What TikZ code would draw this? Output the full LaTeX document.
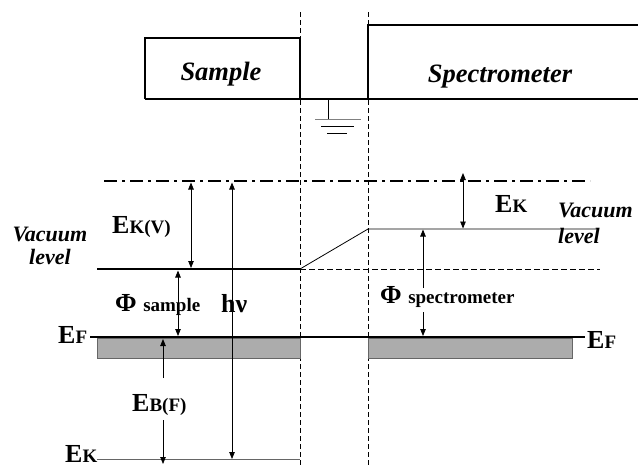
\documentclass[tikz,border=0pt]{standalone}
\usepackage{fontspec}
\setmainfont{Liberation Serif}
\usetikzlibrary{arrows.meta}
\newcommand\LgF{\fontsize{26}{28}\selectfont}
\newcommand\SmF{\fontsize{19}{21}\selectfont}
\newcommand\TitF{\fontsize{26.5}{29}\selectfont}
\newcommand\VacF{\fontsize{22}{23}\selectfont}
\begin{document}
\begin{tikzpicture}[x=1pt,y=-1pt,
  thickln/.style={line width=2.6pt},
  thinln/.style={line width=0.8pt},
  vdash/.style={line width=0.9pt, dash pattern=on 5pt off 3pt},
  boxln/.style={line width=1.1pt},
  tipa/.tip={Triangle[length=7pt,width=5.5pt]},
  dbl/.style={line width=0.8pt, tipa-tipa},
  sgl/.style={line width=0.8pt, -tipa},
  lbl/.style={inner sep=0pt, anchor=base west, font=\bfseries},
  ttl/.style={inner sep=0pt, anchor=base, font=\TitF\bfseries\itshape},
  vac/.style={inner sep=0pt, font=\VacF\bfseries\itshape},
  band/.style={fill=gray!65, draw=black!60, line width=0.8pt}]
\useasboundingbox (0,0) rectangle (638,467);
% coordinates
\coordinate (v1t) at (300,12); \coordinate (v1b) at (300,467);
\coordinate (v2t) at (368,12); \coordinate (v2b) at (368,467);
% boxes
\draw[boxln] (145,99) -- (145,38) -- (300,38) -- (300,99);
\draw[boxln] (638,25) -- (368,25) -- (368,99);
\draw[boxln] (145,99) -- (638,99);
\node[ttl] (sample) at (221,80) {Sample};
\node[ttl] (spectro) at (500,82) {Spectrometer};
% ground
\coordinate (g0) at (328,99); \coordinate (g1) at (328,119);
\draw[thinln] (g0) -- (g1);
\draw[line width=1pt, gray] (315,119) -- (361,119);
\draw[line width=1pt] (321,126) -- (354,126);
\draw[line width=1pt] (327,133) -- (347,133);
% vertical dashed
\draw[vdash] (v1t) -- (v1b);
\draw[vdash] (v2t) -- (v2b);
% energy levels
\coordinate (ddl) at (104,181); \coordinate (ddr) at (590,181);
\draw[line width=2.8pt, dash pattern=on 13pt off 5pt on 3pt off 5pt] (ddl) -- (ddr);
\coordinate (vl0) at (97,269); \coordinate (vl1) at (300,269);
\coordinate (vs0) at (368,229); \coordinate (vs1) at (597,229);
\coordinate (vd1) at (600,269);
\draw[band] (97,338.5) rectangle (300,358);
\draw[band] (368,338.5) rectangle (572,358);
\draw[thickln] (vl0) -- (vl1);
\draw[thinln] (vl1) -- (vs0) -- (vs1);
\draw[thinln, dash pattern=on 6pt off 3pt] (vl1) -- (vd1);
\coordinate (ef0) at (90,337); \coordinate (ef1) at (585,337);
\draw[thickln] (ef0) -- (ef1);
\coordinate (ek0) at (97,459); \coordinate (ek1) at (300,459);
\draw[line width=1pt, black!60] (ek0) -- (ek1);
% labels
\node[vac] (vacL1) at (50,234) {Vacuum};
\node[vac] (vacL2) at (50,257) {level};
\node[vac, anchor=base west] (vacR1) at (558,217) {Vacuum};
\node[vac, anchor=base west] (vacR2) at (558,243) {level};
\node[lbl] (ekv) at (112,233) {\LgF E\SmF K(V)};
\node[lbl] (phis) at (115,311) {\LgF Φ \SmF sample};
\node[lbl] (hnu) at (221,312) {\LgF hν};
\node[lbl] (phisp) at (380,303) {\LgF Φ \SmF spectrometer};
\node[lbl] (ekr) at (495,212) {\LgF E\SmF K};
\node[lbl] (efl) at (58,343) {\LgF E\SmF F};
\node[lbl] (efr) at (587,348) {\LgF E\SmF F};
\node[lbl] (ebf) at (132,411) {\LgF E\SmF B(F)};
\node[lbl] (ekb) at (65,462) {\LgF E\SmF K};
% arrows
\coordinate (a1t) at (191,182.5); \coordinate (a1b) at (191,268);
\draw[dbl] (a1t) -- (a1b);
\coordinate (a2t) at (232,182.5); \coordinate (a2b) at (232,459);
\draw[dbl] (a2t) -- (a2b);
\coordinate (a3t) at (178,270.5); \coordinate (a3b) at (178,336);
\draw[dbl] (a3t) -- (a3b);
\coordinate (a4t) at (423,229.5); \coordinate (a4m1) at (423,288);
\coordinate (a4m2) at (423,312); \coordinate (a4b) at (423,336);
\draw[sgl] (a4m1) -- (a4t);
\draw[sgl] (a4m2) -- (a4b);
\coordinate (a5t) at (163,339); \coordinate (a5m1) at (163,378);
\coordinate (a5m2) at (163,420); \coordinate (a5b) at (163,464);
\draw[sgl] (a5m1) -- (a5t);
\draw[sgl] (a5m2) -- (a5b);
\coordinate (a6t) at (463,173); \coordinate (a6b) at (463,228.5);
\draw[dbl] (a6t) -- (a6b);
\end{tikzpicture}
\end{document}
